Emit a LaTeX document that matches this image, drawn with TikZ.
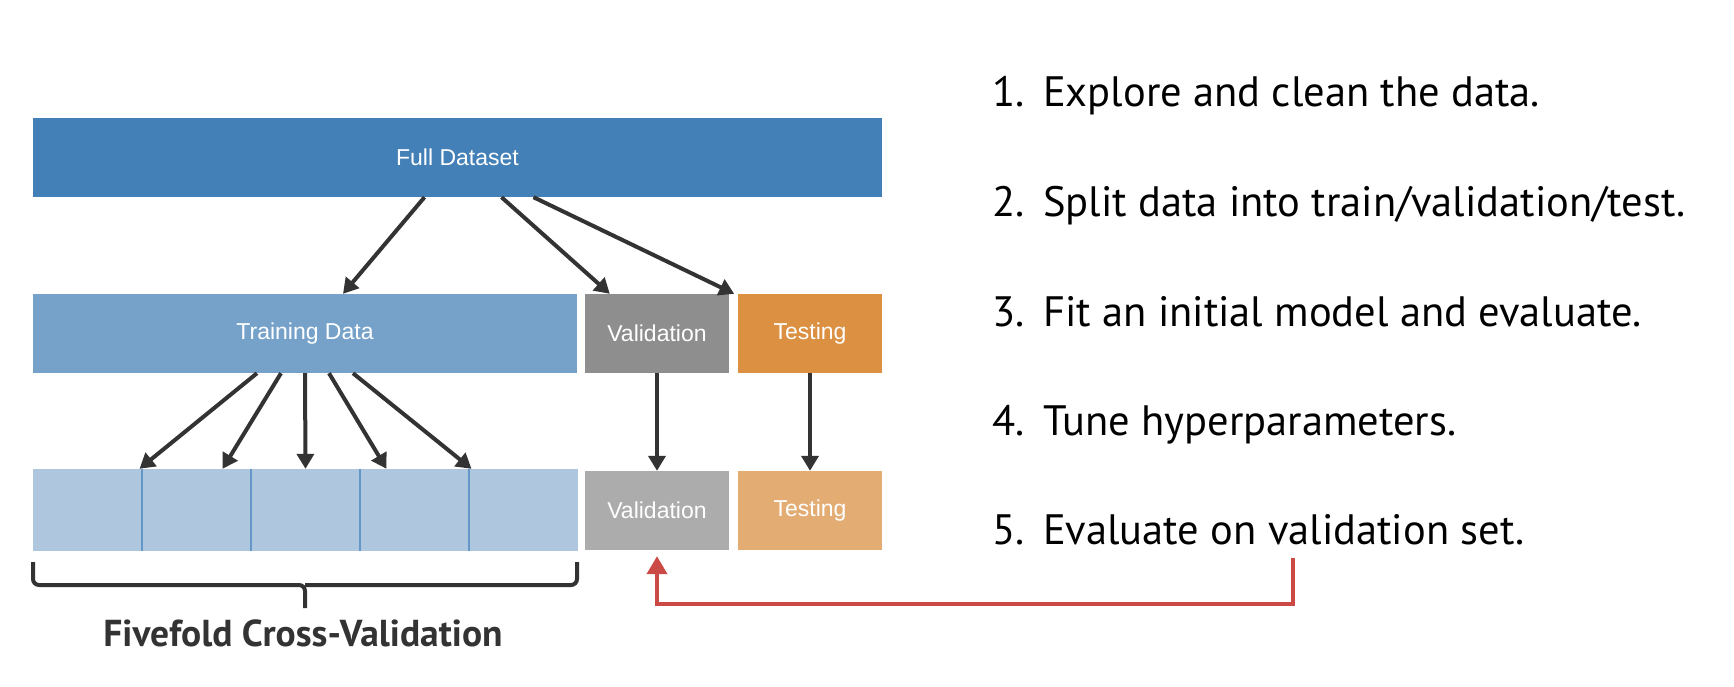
\documentclass[tikz,border=0pt]{standalone}
\usepackage{fontspec}
\setmainfont{PT Sans}
\newfontfamily\boxfont{Liberation Sans}
\usetikzlibrary{arrows.meta}
\definecolor{fullblue}{RGB}{67,128,183}
\definecolor{trainblue}{RGB}{118,162,202}
\definecolor{foldblue}{RGB}{174,198,222}
\definecolor{foldline}{RGB}{100,150,200}
\definecolor{validgray}{RGB}{142,142,142}
\definecolor{validlight}{RGB}{172,172,172}
\definecolor{testorange}{RGB}{219,144,66}
\definecolor{testlight}{RGB}{227,172,115}
\definecolor{arrowdark}{RGB}{51,51,51}
\definecolor{loopred}{RGB}{204,74,69}
\begin{document}
\begin{tikzpicture}[x=1pt,y=-1pt,
        box/.style={inner sep=0pt, minimum height=79pt, text=white, font=\boxfont\fontsize{23}{28}\selectfont},
        fold/.style={inner sep=0pt, minimum width=109pt, minimum height=82pt, fill=foldblue},
        arr/.style={draw=arrowdark, line width=4pt, -{Triangle[length=15pt,width=17pt]}},
        redarr/.style={draw=loopred, line width=4pt, -{Triangle[length=18pt,width=20pt]}},
        stepitem/.style={anchor=base west, inner sep=0pt, text=black, font=\fontsize{42.5}{50}\selectfont}]
                \useasboundingbox (0,0) rectangle (1734,686);
                \node[box, fill=fullblue, minimum width=849pt] (full) at (457.5,157.5) {Full Dataset};
                \node[box, fill=trainblue, minimum width=544pt] (train) at (305,333.5) {Training Data};
                \node[box, fill=validgray, minimum width=144pt] (valid) at (657,333.5) {Validation};
                \node[box, fill=testorange, minimum width=144pt] (test) at (810,333.5) {Testing};
                \node[fold] (f1) at (87.5,510) {};
                \node[fold] (f2) at (196.5,510) {};
                \node[fold] (f3) at (305.5,510) {};
                \node[fold] (f4) at (414.5,510) {};
                \node[fold] (f5) at (523.5,510) {};
                \node[box, fill=validlight, minimum width=144pt] (valid2) at (657,510.5) {Validation};
                \node[box, fill=testlight, minimum width=144pt] (test2) at (810,510.5) {Testing};
                \draw[foldline, line width=1.5pt] (f1.north east) -- (f1.south east);
                \draw[foldline, line width=1.5pt] (f2.north east) -- (f2.south east);
                \draw[foldline, line width=1.5pt] (f3.north east) -- (f3.south east);
                \draw[foldline, line width=1.5pt] (f4.north east) -- (f4.south east);
                \draw[arr] ([xshift=-33pt]full.south) -- ([xshift=38pt]train.north);
                \draw[arr] ([xshift=44pt]full.south) -- ([xshift=25pt]valid.north west);
                \draw[arr] ([xshift=76pt]full.south) -- ([xshift=5pt]valid.north east);
                \draw[arr] ([xshift=-48pt]train.south) -- ([xshift=-166pt]f3.north);
                \draw[arr] ([xshift=-24pt]train.south) -- ([xshift=-83pt]f3.north);
                \draw[arr] (train.south) -- (f3.north);
                \draw[arr] ([xshift=24pt]train.south) -- ([xshift=81pt]f3.north);
                \draw[arr] ([xshift=48pt]train.south) -- ([xshift=166pt]f3.north);
                \draw[arr] (valid.south) -- (valid2.north);
                \draw[arr] (test.south) -- (test2.north);
                \draw[arrowdark, line width=4pt, rounded corners=6pt] (33,562) |- (305,585) -- (305,608);
                \draw[arrowdark, line width=4pt, rounded corners=6pt] (577,562) |- (305,585);
                \node[font=\bfseries\fontsize{37.5}{44}\selectfont, text=arrowdark] (cvtext) at (303,633) {Fivefold Cross-Validation};
                \node[stepitem] (s1) at (992,106) {\makebox[51pt][l]{1.}Explore and clean the data.};
                \node[stepitem] (s2) at (992,216) {\makebox[51pt][l]{2.}Split data into train/validation/test.};
                \node[stepitem] (s3) at (992,326) {\makebox[51pt][l]{3.}Fit an initial model and evaluate.};
                \node[stepitem] (s4) at (992,435) {\makebox[51pt][l]{4.}Tune hyperparameters.};
                \node[stepitem] (s5) at (992,544) {\makebox[51pt][l]{5.}Evaluate on validation set.};
                \coordinate (loopstart) at (1293,558);
                \coordinate (loopcorner) at (1293,604);
                \draw[redarr, shorten >=6pt] (loopstart) -- (loopcorner) -| (valid2.south);
            \end{tikzpicture}
\end{document}
